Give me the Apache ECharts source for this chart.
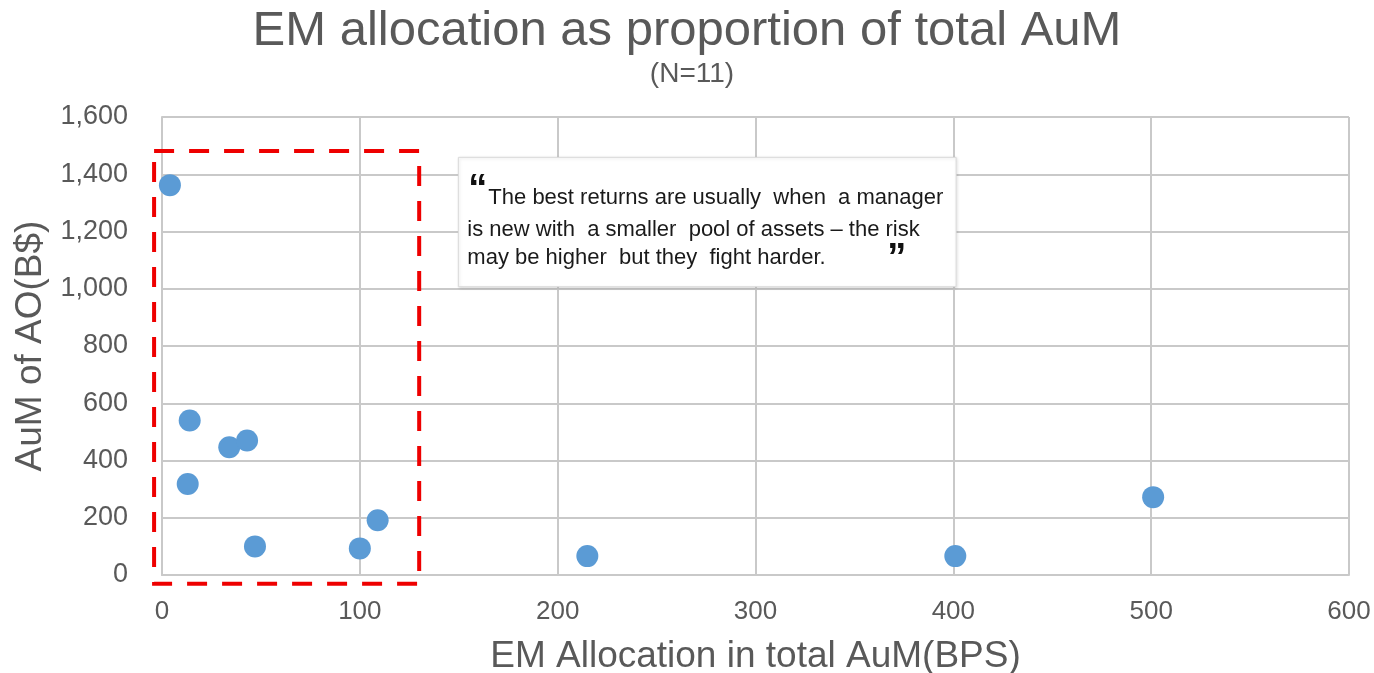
<!DOCTYPE html>
<html>
<head>
<meta charset="utf-8">
<script src="https://cdn.jsdelivr.net/npm/echarts@6/dist/echarts.min.js"></script>
<style>
  html, body { margin: 0; padding: 0; background: #ffffff; }
  #chart { width: 1374px; height: 673px; }
</style>
</head>
<body>
<div id="chart"></div>
<script>
// Managers: EM allocation (bps of total AuM) against AuM of the asset owner (B$)
const emAllocationBps = [4, 14, 34, 43, 13, 47, 100, 109, 215, 401, 501];
const aumBillions     = [1362, 540, 446, 470, 318, 100, 93, 191, 66, 66, 272];

const titleText    = 'EM allocation as proportion of total AuM';
const subtitleText = '(N=11)';
const xAxisName    = 'EM Allocation in total AuM(BPS)';
const yAxisName    = 'AuM of AO(B$)';
const quoteLines   = [
  'The best returns are usually  when  a manager',
  'is new with  a smaller  pool of assets – the risk',
  'may be higher  but they  fight harder.'
];

// Annotation regions, in axis units
const focusRegion   = { x0: -4, x1: 130, y0: -31, y1: 1481 };
const calloutRegion = { x0: 149.8, x1: 401.4, y0: 1007, y1: 1459 };

const FONT = '"Liberation Sans", Arial, sans-serif';
const GREY_TEXT = '#595959';
const GRID_LINE = '#c9c9c9';

const points = emAllocationBps.map((x, i) => [x, aumBillions[i]]);

const chart = echarts.init(document.getElementById('chart'), null, { renderer: 'canvas' });

chart.setOption({
  animation: false,
  backgroundColor: '#ffffff',
  title: [
    {
      text: titleText,
      left: 'center',
      top: 7,
      padding: 0,
      textStyle: { fontFamily: FONT, fontSize: 49, fontWeight: 'normal', color: GREY_TEXT }
    },
    {
      text: subtitleText,
      left: 692,
      top: 60,
      padding: 0,
      textAlign: 'center',
      textStyle: { fontFamily: FONT, fontSize: 28, fontWeight: 'normal', color: GREY_TEXT }
    }
  ],
  grid: { left: 162, right: 25, top: 117, bottom: 98, containLabel: false, outerBoundsMode: 'none' },
  xAxis: {
    type: 'value',
    min: 0, max: 600, interval: 100,
    name: xAxisName,
    nameLocation: 'middle',
    nameGap: 63,
    nameTextStyle: { fontFamily: FONT, fontSize: 37, color: GREY_TEXT },
    axisLine: { show: true, lineStyle: { color: GRID_LINE, width: 2 } },
    axisTick: { show: false },
    axisLabel: { fontFamily: FONT, fontSize: 26, color: GREY_TEXT, margin: 24 },
    splitLine: { show: true, lineStyle: { color: GRID_LINE, width: 2 } }
  },
  yAxis: {
    type: 'value',
    min: 0, max: 1600, interval: 200,
    name: yAxisName,
    nameLocation: 'middle',
    nameGap: 110,
    nameTextStyle: { fontFamily: FONT, fontSize: 37, color: GREY_TEXT },
    axisLine: { show: true, lineStyle: { color: GRID_LINE, width: 2 } },
    axisTick: { show: false },
    axisLabel: {
      fontFamily: FONT, fontSize: 27, color: GREY_TEXT, margin: 34,
      formatter: v => v.toLocaleString('en-US')
    },
    splitLine: { show: true, lineStyle: { color: GRID_LINE, width: 2 } }
  },
  series: [{
    type: 'scatter',
    data: points,
    symbol: 'circle',
    symbolSize: 22,
    itemStyle: { color: '#5b9bd5', opacity: 1 },
    z: 5
  }]
});

// Overlay the dashed focus box and the quote callout, placed in axis units
function toPx(x, y) { return chart.convertToPixel({ gridIndex: 0 }, [x, y]); }

const fA = toPx(focusRegion.x0, focusRegion.y1);
const fB = toPx(focusRegion.x1, focusRegion.y0);
const cA = toPx(calloutRegion.x0, calloutRegion.y1);
const cB = toPx(calloutRegion.x1, calloutRegion.y0);
const L = cA[0], T = cA[1];

const textFont = '22px ' + FONT;

chart.setOption({
  graphic: [
    {
      type: 'rect',
      z: 50,
      silent: true,
      shape: { x: fA[0], y: fA[1], width: fB[0] - fA[0], height: fB[1] - fA[1] },
      style: { fill: 'none', stroke: '#ee0000', lineWidth: 4, lineDash: [20, 15] }
    },
    {
      type: 'rect',
      z: 40,
      silent: true,
      shape: { x: L, y: T, width: cB[0] - L, height: cB[1] - T },
      style: {
        fill: '#ffffff', stroke: '#dadada', lineWidth: 1,
        shadowBlur: 3, shadowColor: 'rgba(0,0,0,0.12)', shadowOffsetX: 1, shadowOffsetY: 1
      }
    },
    {
      type: 'text', z: 41, silent: true,
      style: { text: '\u201C', x: L + 10, y: T + 14, font: 'bold 38px ' + FONT, fill: '#111111', verticalAlign: 'top' }
    },
    {
      type: 'text', z: 41, silent: true,
      style: { text: quoteLines[0], x: L + 30, y: T + 41, font: textFont, fill: '#1a1a1a', verticalAlign: 'middle' }
    },
    {
      type: 'text', z: 41, silent: true,
      style: { text: quoteLines[1], x: L + 9, y: T + 73, font: textFont, fill: '#1a1a1a', verticalAlign: 'middle' }
    },
    {
      type: 'text', z: 41, silent: true,
      style: { text: quoteLines[2], x: L + 9, y: T + 101, font: textFont, fill: '#1a1a1a', verticalAlign: 'middle' }
    },
    {
      type: 'text', z: 41, silent: true,
      style: { text: '\u201D', x: L + 429, y: T + 83, font: 'bold 38px ' + FONT, fill: '#111111', verticalAlign: 'top' }
    }
  ]
});
</script>
</body>
</html>
